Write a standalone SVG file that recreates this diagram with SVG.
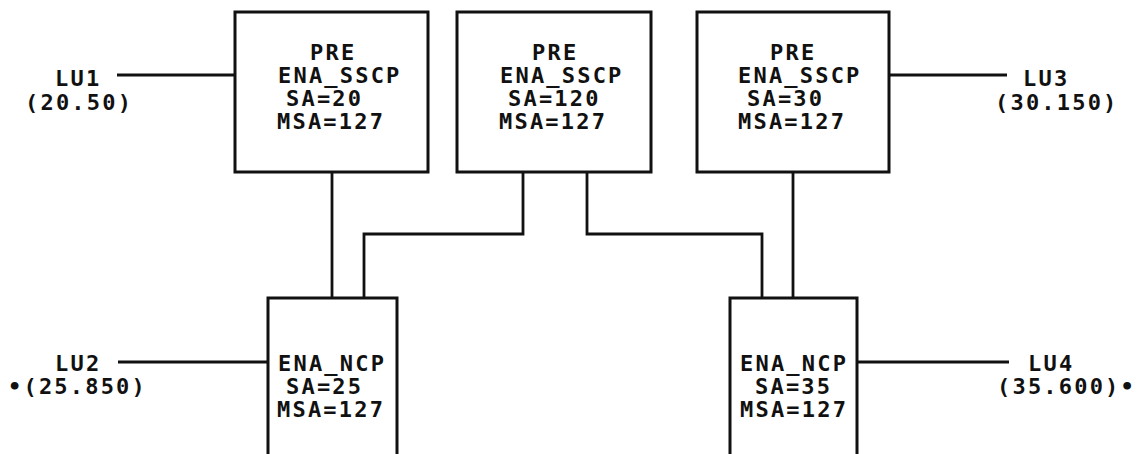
<svg xmlns="http://www.w3.org/2000/svg" width="1137" height="454" viewBox="0 0 1137 454">
<style>
.box{fill:none;stroke:#111;stroke-width:3}
.ln{fill:none;stroke:#111;stroke-width:2.8}
text{font-family:"DejaVu Sans Mono","Liberation Mono",monospace;font-weight:bold;font-size:22px;letter-spacing:2.2px;fill:#111}
</style>
<rect width="1137" height="454" fill="#fff"/>
<g id="connectors">
<path class="ln" d="M117,75 H235"/>
<path class="ln" d="M889,75 H1007"/>
<path class="ln" d="M118,362 H268"/>
<path class="ln" d="M857,362 H1009"/>
<path class="ln" d="M332,172 V298"/>
<path class="ln" d="M523,172 V234 H364 V298"/>
<path class="ln" d="M587,172 V234 H762 V298"/>
<path class="ln" d="M793,172 V298"/>
</g>
<g id="sscp1">
<rect class="box" x="235" y="12" width="193" height="160"/>
<text x="310" y="60">PRE</text>
<text x="278" y="83">ENA_SSCP</text>
<text x="286" y="106">SA=20</text>
<text x="277" y="129">MSA=127</text>
</g>
<g id="sscp2">
<rect class="box" x="457" y="12" width="194" height="160"/>
<text x="532" y="60">PRE</text>
<text x="500" y="83">ENA_SSCP</text>
<text x="508" y="106">SA=120</text>
<text x="499" y="129">MSA=127</text>
</g>
<g id="sscp3">
<rect class="box" x="697" y="12" width="192" height="160"/>
<text x="770" y="60">PRE</text>
<text x="738" y="83">ENA_SSCP</text>
<text x="747" y="106">SA=30</text>
<text x="738" y="129">MSA=127</text>
</g>
<g id="ncp1">
<path class="box" d="M268,454 V298 H397 V454"/>
<text x="278" y="371">ENA_NCP</text>
<text x="286" y="394">SA=25</text>
<text x="277" y="417">MSA=127</text>
</g>
<g id="ncp2">
<path class="box" d="M730,454 V298 H857 V454"/>
<text x="740" y="371">ENA_NCP</text>
<text x="755" y="394">SA=35</text>
<text x="740" y="417">MSA=127</text>
</g>
<g id="lu1">
<text x="55" y="86">LU1</text>
<text x="25" y="110">(20.50)</text>
</g>
<g id="lu3">
<text x="1023" y="86">LU3</text>
<text x="995" y="110">(30.150)</text>
</g>
<g id="lu2">
<text x="55" y="371">LU2</text>
<text x="8" y="394">•(25.850)</text>
</g>
<g id="lu4">
<text x="1028" y="371">LU4</text>
<text x="997" y="394">(35.600)•</text>
</g>
</svg>
